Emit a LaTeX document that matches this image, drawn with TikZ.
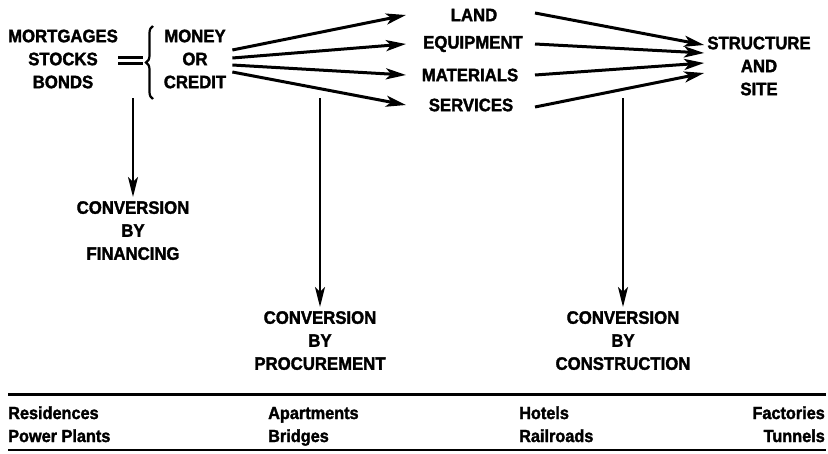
\documentclass[tikz,border=0pt]{standalone}
\usepackage{fontspec}
\setmainfont{Liberation Sans Bold}[FakeBold=1.8, FakeStretch=0.93]
\usetikzlibrary{arrows.meta,decorations.pathreplacing}
\begin{document}
\begin{tikzpicture}[x=1pt,y=-1pt,
  lbl/.style={font=\fontsize{18}{23}\selectfont, align=center, inner sep=0pt},
  blbl/.style={font=\fontsize{17.5}{20}\selectfont, inner sep=0pt},
  arr/.style={line width=3pt, -{Stealth[length=20pt,width=11pt,inset=5pt]}},
  varr/.style={line width=2.4pt, shorten >=4pt, -{Stealth[length=20pt,width=10pt,inset=5pt]}},
  rule/.style={line width=3pt}]
\useasboundingbox (0,0) rectangle (828,453);

% left block
\node[lbl] (src) at (63,59) {MORTGAGES\\STOCKS\\BONDS};
\coordinate (eqa) at (118,60);
\coordinate (eqb) at (143,60);
\draw[line width=2.4pt] ([yshift=2.5pt]eqa) -- ([yshift=2.5pt]eqb);
\draw[line width=2.4pt] ([yshift=-3.5pt]eqa) -- ([yshift=-3.5pt]eqb);
\coordinate (brb) at (153,99);
\coordinate (brt) at (153,26);
\draw[line width=2.2pt, decorate, decoration={brace, amplitude=7pt}] (brb) -- (brt);
\node[lbl] (money) at (195,59) {MONEY\\OR\\CREDIT};

% middle column
\node[lbl] (land) at (474,15) {LAND};
\node[lbl] (equip) at (473,44) {EQUIPMENT};
\node[lbl] (mat) at (470,75) {MATERIALS};
\node[lbl] (serv) at (471,105) {SERVICES};
\coordinate (tip) at (406,0);
\coordinate (tail) at (535,0);

\draw[arr] ([xshift=6pt,yshift=9pt]money.east) -- (land.center -| tip);
\draw[arr] ([xshift=6pt,yshift=1pt]money.east) -- (equip.center -| tip);
\draw[arr] ([xshift=6pt,yshift=-6pt]money.east) -- (mat.center -| tip);
\draw[arr] ([xshift=6pt,yshift=-13pt]money.east) -- (serv.center -| tip);

% right block
\node[lbl] (site) at (759,66) {STRUCTURE\\AND\\SITE};
\draw[arr] ([yshift=2pt]land.center -| tail) -- ([xshift=-3pt,yshift=21pt]site.west);
\draw[arr] (equip.center -| tail) -- ([xshift=-3pt,yshift=13pt]site.west);
\draw[arr] (mat.center -| tail) -- ([xshift=-3pt,yshift=3pt]site.west);
\draw[arr] ([yshift=-2pt]serv.center -| tail) -- ([xshift=-3pt,yshift=-7pt]site.west);

% conversions
\coordinate (f0) at (133,98);
\coordinate (p0) at (320,98);
\coordinate (c0) at (623,98);
\node[lbl, anchor=north] (fin) at (133,201) {CONVERSION\\BY\\FINANCING};
\node[lbl, anchor=north] (proc) at (320,311) {CONVERSION\\BY\\PROCUREMENT};
\node[lbl, anchor=north] (cons) at (623,311) {CONVERSION\\BY\\CONSTRUCTION};
\draw[varr] (f0) -- (fin.north);
\draw[varr] (p0) -- (proc.north);
\draw[varr] (c0) -- (cons.north);

% table
\coordinate (r1a) at (8,394);
\coordinate (r1b) at (826,394);
\coordinate (r2a) at (8,450);
\coordinate (r2b) at (826,450);
\draw[rule] (r1a) -- (r1b);
\draw[line width=2.2pt] (r2a) -- (r2b);
\node[blbl, anchor=base west] (res) at (8,419) {Residences};
\node[blbl, anchor=base west] (apt) at (268,419) {Apartments};
\node[blbl, anchor=base west] (hot) at (519,419) {Hotels};
\node[blbl, anchor=base east] (fac) at (825,419) {Factories};
\node[blbl, anchor=base west] (pow) at (8,442) {Power Plants};
\node[blbl, anchor=base west] (bri) at (268,442) {Bridges};
\node[blbl, anchor=base west] (rai) at (519,442) {Railroads};
\node[blbl, anchor=base east] (tun) at (825,442) {Tunnels};
\end{tikzpicture}
\end{document}
